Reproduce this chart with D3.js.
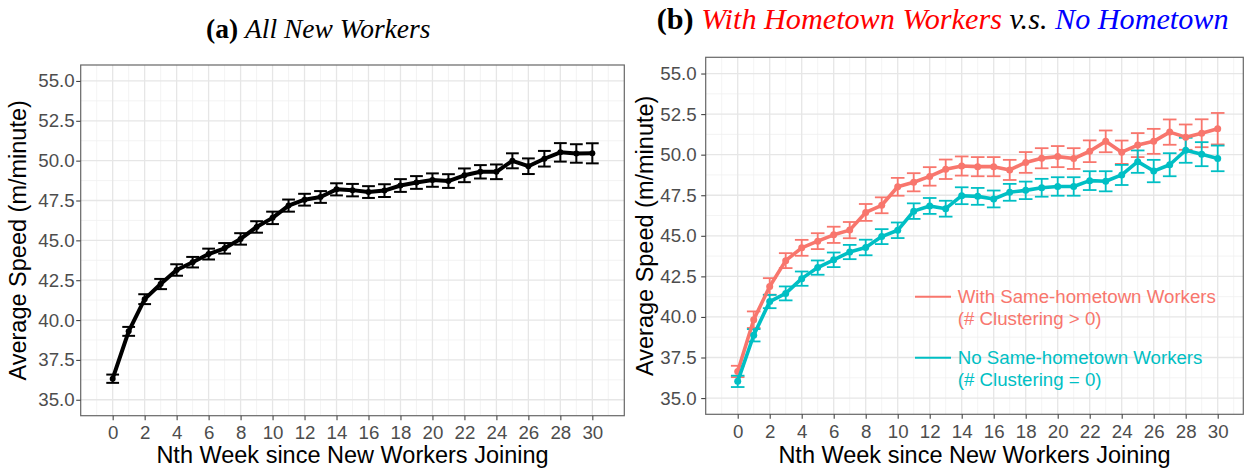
<!DOCTYPE html>
<html>
<head>
<meta charset="utf-8">
<script src="https://cdn.jsdelivr.net/npm/d3@7"></script>
<style>
  body { margin: 0; background: #fff; }
  svg text { font-family: "Liberation Sans", Arial, sans-serif; }
</style>
</head>
<body>
<svg id="chart" width="1250" height="469"></svg>
<script>
// 週數
var weeks = [0,1,2,3,4,5,6,7,8,9,10,11,12,13,14,15,16,17,18,19,20,21,22,23,24,25,26,27,28,29,30];
var xTicks = [0,2,4,6,8,10,12,14,16,18,20,22,24,26,28,30];
var xMinor = [-1,1,3,5,7,9,11,13,15,17,19,21,23,25,27,29,31];
var yTicks = [35,37.5,40,42.5,45,47.5,50,52.5,55];
var yMinor = [36.25,38.75,41.25,43.75,46.25,48.75,51.25,53.75];

// (a) all new workers
var allMean = [36.32,39.29,41.31,42.26,43.14,43.63,44.14,44.5,45.09,45.84,46.41,47.18,47.55,47.72,48.2,48.15,48.03,48.12,48.44,48.63,48.78,48.72,49.08,49.3,49.3,49.99,49.65,50.12,50.52,50.45,50.46];
var allSe = [0.26,0.28,0.31,0.32,0.36,0.33,0.34,0.33,0.36,0.36,0.39,0.38,0.37,0.37,0.38,0.39,0.37,0.4,0.4,0.4,0.42,0.43,0.43,0.42,0.46,0.47,0.49,0.49,0.58,0.58,0.63];

// (b) with / without same-hometown workers
var withMean = [36.64,39.83,41.88,43.47,44.26,44.67,45.06,45.35,46.44,46.88,48.02,48.3,48.66,49.1,49.3,49.26,49.26,49.06,49.52,49.78,49.88,49.76,50.21,50.82,50.15,50.59,50.82,51.39,51.08,51.32,51.6];
var withSe = [0.35,0.51,0.51,0.46,0.49,0.49,0.5,0.5,0.52,0.49,0.55,0.56,0.57,0.6,0.59,0.59,0.59,0.62,0.64,0.62,0.65,0.64,0.67,0.67,0.72,0.74,0.77,0.78,0.78,0.86,0.97];
var noMean = [36.03,38.87,40.95,41.45,42.36,43.04,43.52,44.0,44.28,44.95,45.34,46.52,46.84,46.67,47.47,47.43,47.27,47.68,47.8,47.96,48.04,48.04,48.4,48.36,48.75,49.57,48.99,49.38,50.27,50.03,49.77];
var noSe = [0.35,0.38,0.41,0.43,0.44,0.44,0.45,0.44,0.48,0.46,0.48,0.48,0.49,0.49,0.52,0.52,0.52,0.52,0.54,0.55,0.57,0.57,0.58,0.62,0.62,0.69,0.69,0.71,0.77,0.74,0.79];

var xTitle = "Nth Week since New Workers Joining";
var yTitle = "Average Speed (m/minute)";

var svg = d3.select("#chart");

function rows(mean, se) {
	return weeks.map(function(w, i) {
		return { week: w, mean: mean[i], lo: mean[i] - se[i], hi: mean[i] + se[i] };
	});
}

function drawPanel(p) {
	var g = svg.append("g");
	var x = d3.scaleLinear().domain(p.xDomain).range([p.left, p.right]);
	var y = d3.scaleLinear().domain([34, 56]).range([p.bottom, p.top]);

	//grid
	g.append("g").selectAll("line").data(xMinor).join("line")
		.attr("x1", x).attr("x2", x).attr("y1", p.top).attr("y2", p.bottom)
		.attr("stroke", "#f0f0f0").attr("stroke-width", 0.8);
	g.append("g").selectAll("line").data(yMinor).join("line")
		.attr("y1", y).attr("y2", y).attr("x1", p.left).attr("x2", p.right)
		.attr("stroke", "#f0f0f0").attr("stroke-width", 0.8);
	g.append("g").selectAll("line").data(xTicks).join("line")
		.attr("x1", x).attr("x2", x).attr("y1", p.top).attr("y2", p.bottom)
		.attr("stroke", "#e6e6e6").attr("stroke-width", 1.3);
	g.append("g").selectAll("line").data(yTicks).join("line")
		.attr("y1", y).attr("y2", y).attr("x1", p.left).attr("x2", p.right)
		.attr("stroke", "#e6e6e6").attr("stroke-width", 1.3);

	//series
	p.series.forEach(function(s) {
		var d = rows(s.mean, s.se);
		var eb = g.append("g").attr("stroke", s.color).attr("stroke-width", s.barWidth);
		eb.selectAll("line.v").data(d).join("line").attr("class", "v")
			.attr("x1", function(r) { return x(r.week); })
			.attr("x2", function(r) { return x(r.week); })
			.attr("y1", function(r) { return y(r.lo); })
			.attr("y2", function(r) { return y(r.hi); });
		["lo", "hi"].forEach(function(k) {
			eb.selectAll("line." + k).data(d).join("line").attr("class", k)
				.attr("x1", function(r) { return x(r.week - p.cap / 2); })
				.attr("x2", function(r) { return x(r.week + p.cap / 2); })
				.attr("y1", function(r) { return y(r[k]); })
				.attr("y2", function(r) { return y(r[k]); });
		});
	});
	p.series.forEach(function(s) {
		var d = rows(s.mean, s.se);
		g.append("path").datum(d)
			.attr("fill", "none").attr("stroke", s.color)
			.attr("stroke-width", s.lineWidth).attr("stroke-linejoin", "round")
			.attr("d", d3.line().x(function(r) { return x(r.week); }).y(function(r) { return y(r.mean); }));
		g.append("g").selectAll("circle").data(d).join("circle")
			.attr("cx", function(r) { return x(r.week); })
			.attr("cy", function(r) { return y(r.mean); })
			.attr("r", s.radius).attr("fill", s.color);
	});

	//border
	g.append("rect").attr("x", p.left).attr("y", p.top)
		.attr("width", p.right - p.left).attr("height", p.bottom - p.top)
		.attr("fill", "none").attr("stroke", "#666").attr("stroke-width", 1.2);

	//axis
	var ax = g.append("g").attr("transform", "translate(0," + p.bottom + ")")
		.call(d3.axisBottom(x).tickValues(xTicks).tickSize(4.5).tickPadding(5.5));
	var ay = g.append("g").attr("transform", "translate(" + p.left + ",0)")
		.call(d3.axisLeft(y).tickValues(yTicks).tickSize(4.5).tickPadding(p.yPad).tickFormat(d3.format(".1f")));
	[ax, ay].forEach(function(a) {
		a.select(".domain").remove();
		a.selectAll(".tick line").attr("stroke", "#444").attr("stroke-width", 1.1);
		a.selectAll(".tick text").attr("fill", "#4d4d4d")
			.style("font-size", "18.7px").style("font-family", "'Liberation Sans', Arial, sans-serif");
	});

	g.append("text")
		.attr("x", (p.left + p.right) / 2).attr("y", 463)
		.attr("text-anchor", "middle").style("font-size", "23.5px")
		.text(xTitle);
	g.append("text")
		.attr("transform", "translate(" + p.yTitleX + "," + ((p.top + p.bottom) / 2) + ") rotate(-90)")
		.attr("text-anchor", "middle").style("font-size", "23.5px")
		.text(yTitle);
	return { x: x, y: y };
}

drawPanel({
	left: 80.7, right: 624.3, top: 65, bottom: 415.7,
	xDomain: [-2, 32], cap: 0.8, yPad: 1.5, yTitleX: 26,
	series: [{ mean: allMean, se: allSe, color: "#000", lineWidth: 4, barWidth: 2, radius: 3 }]
});

drawPanel({
	left: 705.7, right: 1243.3, top: 57.3, bottom: 414.3,
	xDomain: [-2, 31.6], cap: 0.85, yPad: 4.5, yTitleX: 653,
	series: [
		{ mean: withMean, se: withSe, color: "#F8766D", lineWidth: 3.6, barWidth: 1.8, radius: 3.5 },
		{ mean: noMean, se: noSe, color: "#00BFC4", lineWidth: 3.6, barWidth: 1.8, radius: 3.5 }
	]
});

//legend
var legend = [
	{ color: "#F8766D", lines: ["With Same-hometown Workers", "(# Clustering > 0)"], y: 296.7 },
	{ color: "#00BFC4", lines: ["No Same-hometown Workers", "(# Clustering = 0)"], y: 357.7 }
];
legend.forEach(function(l) {
	svg.append("line").attr("x1", 915).attr("x2", 951).attr("y1", l.y).attr("y2", l.y)
		.attr("stroke", l.color).attr("stroke-width", 2);
	l.lines.forEach(function(t, i) {
		svg.append("text").attr("x", 957.7).attr("y", l.y + 6.6 + i * 21.6)
			.attr("fill", l.color).style("font-size", "18.7px").text(t);
	});
});

//titles
function title(x, y, w, parts) {
	var t = svg.append("text").attr("x", x).attr("y", y)
		.style("font-family", "'Liberation Serif', 'Times New Roman', serif")
		.style("font-size", "24px");
	parts.forEach(function(p) {
		t.append("tspan").text(p.text)
			.attr("fill", p.color || "#000")
			.style("font-weight", p.bold ? "bold" : "normal")
			.style("font-style", p.italic ? "italic" : "normal");
	});
	var bw = t.node().getBBox().width;
	t.style("font-size", (24 * w / bw) + "px");
}
title(206, 38.3, 224.6, [
	{ text: "(a) ", bold: true },
	{ text: "All New Workers", italic: true }
]);
title(656.7, 28.7, 572, [
	{ text: "(b) ", bold: true },
	{ text: "With Hometown Workers", italic: true, color: "#ff0000" },
	{ text: " v.s. ", italic: true },
	{ text: "No Hometown", italic: true, color: "#0000ff" }
]);
</script>
</body>
</html>
